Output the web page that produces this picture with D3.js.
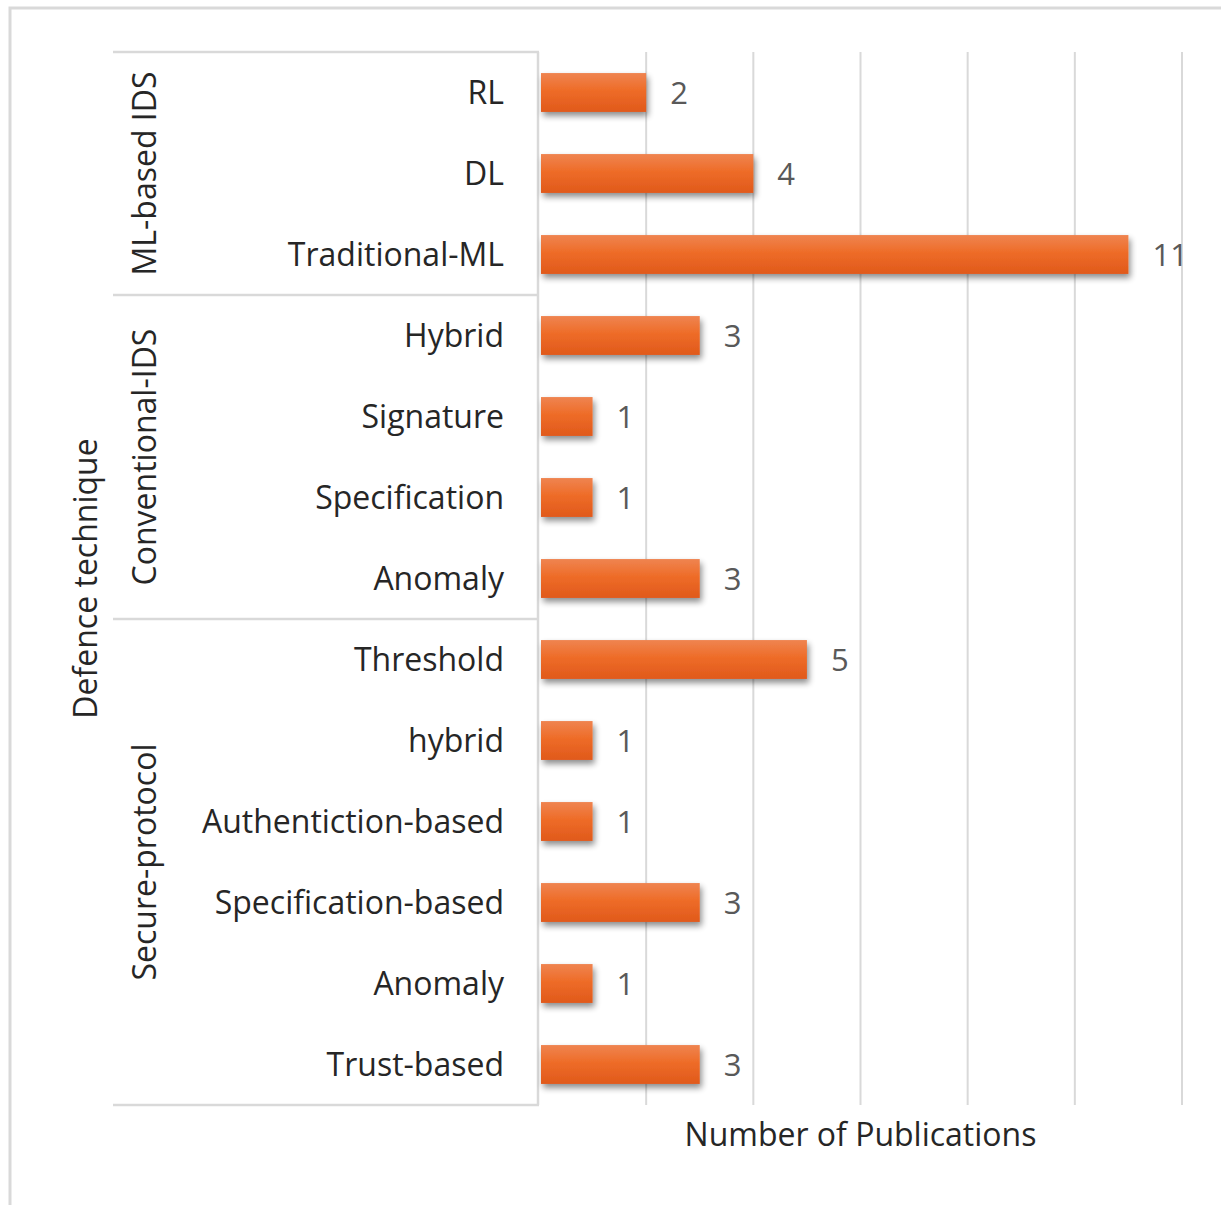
<!DOCTYPE html>
<html>
<head>
<meta charset="utf-8">
<style>
body { margin: 0; background: #fff; }
svg text { font-family: "Open Sans", sans-serif; }
</style>
</head>
<body>
<svg width="1221" height="1205"></svg>
<script src="https://d3js.org/d3.v7.min.js"></script>
<script>
// data
var groups = ["ML-based IDS", "Conventional-IDS", "Secure-protocol"];
var groupSizes = [3, 4, 6];
var categories = ["RL", "DL", "Traditional-ML",
  "Hybrid", "Signature", "Specification", "Anomaly",
  "Threshold", "hybrid", "Authentiction-based", "Specification-based", "Anomaly", "Trust-based"];
var values = [2, 4, 11, 3, 1, 1, 3, 5, 1, 1, 3, 1, 3];
var gridTicks = [2, 4, 6, 8, 10, 12];

var svg = d3.select("svg");
var plot = {left: 539, right: 1182, top: 52, bottom: 1105};

var x = d3.scaleLinear().domain([0, 12]).range([plot.left, plot.right]);
var y = d3.scaleBand().domain(d3.range(categories.length))
    .range([plot.top, plot.bottom]).paddingInner(0.52).paddingOuter(0.26);

// outer frame
svg.append("path")
    .attr("d", "M10,1205 V8 H1221")
    .attr("fill", "none").attr("stroke", "#d9d9d9").attr("stroke-width", 3);

var defs = svg.append("defs");
var grad = defs.append("linearGradient").attr("id", "barGrad")
    .attr("x1", 0).attr("y1", 0).attr("x2", 0).attr("y2", 1);
grad.append("stop").attr("offset", "0%").attr("stop-color", "#ef8450");
grad.append("stop").attr("offset", "45%").attr("stop-color", "#ee6c28");
grad.append("stop").attr("offset", "100%").attr("stop-color", "#e0591b");

var shadow = defs.append("filter").attr("id", "shadow")
    .attr("x", "-10%").attr("y", "-20%").attr("width", "130%").attr("height", "160%");
shadow.append("feGaussianBlur").attr("in", "SourceAlpha").attr("stdDeviation", 3);
shadow.append("feOffset").attr("dx", 2).attr("dy", 4).attr("result", "off");
shadow.append("feComponentTransfer").append("feFuncA").attr("type", "linear").attr("slope", 0.45);
var merge = shadow.append("feMerge");
merge.append("feMergeNode");
merge.append("feMergeNode").attr("in", "SourceGraphic");

// gridlines
svg.append("g").selectAll("line").data(gridTicks).join("line")
    .attr("x1", d => x(d)).attr("x2", d => x(d))
    .attr("y1", plot.top).attr("y2", plot.bottom)
    .attr("stroke", "#d9d9d9").attr("stroke-width", 2);

// category table lines
var bounds = [0];
groupSizes.forEach(function(s) { bounds.push(bounds[bounds.length - 1] + s); });
var step = y.step();
var yEdge = function(i) { return plot.top + i * step; };

svg.append("g").selectAll("line").data(bounds).join("line")
    .attr("x1", 113).attr("x2", plot.left)
    .attr("y1", d => yEdge(d)).attr("y2", d => yEdge(d))
    .attr("stroke", "#d9d9d9").attr("stroke-width", 2.5);

svg.append("line")
    .attr("x1", plot.left - 1).attr("x2", plot.left - 1)
    .attr("y1", plot.top).attr("y2", plot.bottom)
    .attr("stroke", "#d9d9d9").attr("stroke-width", 2.5);

// bars
svg.append("g").selectAll("rect").data(values).join("rect")
    .attr("x", x(0) + 2)
    .attr("y", (d, i) => y(i))
    .attr("width", d => x(d) - x(0) - 2)
    .attr("height", y.bandwidth())
    .attr("fill", "url(#barGrad)")
    .attr("filter", "url(#shadow)");

// value labels
svg.append("g").selectAll("text").data(values).join("text")
    .attr("x", d => x(d) + 24)
    .attr("y", (d, i) => y(i) + y.bandwidth() / 2)
    .attr("dy", "0.36em")
    .attr("font-size", 31)
    .attr("font-family", "'Liberation Sans', Arial, sans-serif")
    .attr("fill", "#595959")
    .text(d => d);

// category labels
svg.append("g").selectAll("text").data(categories).join("text")
    .attr("x", 504)
    .attr("y", (d, i) => y(i) + y.bandwidth() / 2)
    .attr("dy", "0.36em")
    .attr("text-anchor", "end")
    .attr("font-size", 32)
    .attr("fill", "#262626")
    .text(d => d);

// group labels
svg.append("g").selectAll("text").data(groups).join("text")
    .attr("transform", function(d, i) {
      var cy = (yEdge(bounds[i]) + yEdge(bounds[i + 1])) / 2;
      return "translate(156," + cy + ") rotate(-90)";
    })
    .attr("text-anchor", "middle")
    .attr("font-size", 32)
    .attr("fill", "#262626")
    .text(d => d);

// axis titles
svg.append("text")
    .attr("transform", "translate(97," + (plot.top + plot.bottom) / 2 + ") rotate(-90)")
    .attr("text-anchor", "middle")
    .attr("font-size", 32)
    .attr("fill", "#262626")
    .text("Defence technique");

svg.append("text")
    .attr("x", (plot.left + plot.right) / 2)
    .attr("y", 1146)
    .attr("text-anchor", "middle")
    .attr("font-size", 32)
    .attr("fill", "#262626")
    .text("Number of Publications");
</script>
</body>
</html>
